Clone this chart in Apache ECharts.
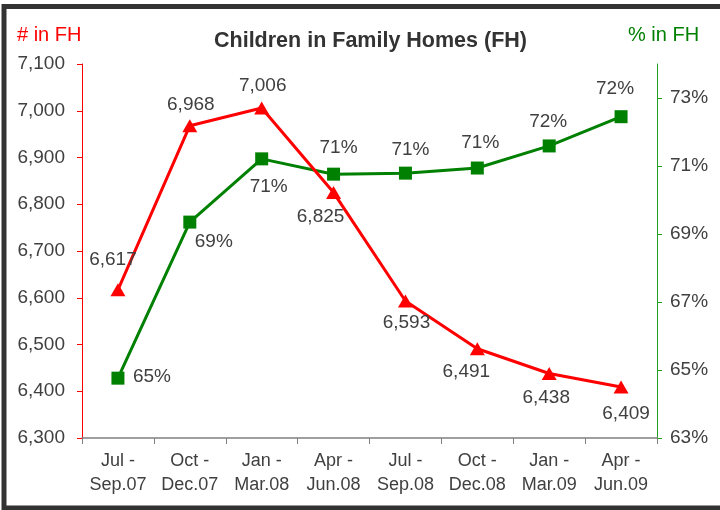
<!DOCTYPE html>
<html>
<head>
<meta charset="utf-8">
<script src="https://cdn.jsdelivr.net/npm/echarts@6/dist/echarts.min.js"></script>
<style>
html,body{margin:0;padding:0;background:#fff;}
#chart{width:720px;height:510px;}
</style>
</head>
<body>
<div id="chart"></div>
<script>
var categories = ['Jul -\nSep.07','Oct -\nDec.07','Jan -\nMar.08','Apr -\nJun.08','Jul -\nSep.08','Oct -\nDec.08','Jan -\nMar.09','Apr -\nJun.09'];
var countFH = [6617, 6968, 7006, 6825, 6593, 6491, 6438, 6409];
var pctFH = [64.76, 69.35, 71.21, 70.76, 70.79, 70.94, 71.59, 72.45];
var leftTicks = [6300, 6400, 6500, 6600, 6700, 6800, 6900, 7000, 7100];
var rightTicks = [63, 65, 67, 69, 71, 73];

// label placement (offset of label centre from the marker)
var countLabelOffsets = [[-5,-30],[1,-21],[1,-22],[-13,24],[1,22],[-11,23],[-3,24],[5,27]];
var pctLabelOffsets = [[34,-1],[24,20],[7,28],[5,-26],[5,-23],[3,-25],[-1,-24],[-6,-28]];

var txt = '#404040';
var font = 'Liberation Sans, Arial, sans-serif';

function fmtThousands(v){ return String(v).replace(/\B(?=(\d{3})+(?!\d))/g, ','); }

var chart = echarts.init(document.getElementById('chart'), null, {renderer:'canvas'});
chart.setOption({
  animation:false,
  backgroundColor:'#fff',
  textStyle:{fontFamily:font},
  graphic:[
    {type:'rect', shape:{x:4, y:6.5, width:760, height:501.5}, style:{fill:'none', stroke:'#333', lineWidth:5}, silent:true},
    {type:'text', left:17, top:25, style:{text:'# in FH', fill:'#ff0000', font:'20px ' + font}},
    {type:'text', left:628, top:25, style:{text:'% in FH', fill:'#008000', font:'20px ' + font}}
  ],
  title:{
    text:'Children in Family Homes (FH)',
    left:209, top:25,
    textStyle:{fontSize:21.5, fontWeight:'bold', color:'#333', fontFamily:font}
  },
  grid:{left:82, right:63, top:64, bottom:72, containLabel:false},
  xAxis:{
    type:'category',
    data:categories,
    boundaryGap:true,
    axisLine:{lineStyle:{color:'#808080', width:1.5}},
    axisTick:{show:true, length:6, interval:0, lineStyle:{color:'#808080'}},
    axisLabel:{color:txt, fontSize:18, lineHeight:24, margin:11, interval:0, fontFamily:font}
  },
  yAxis:[
    {
      type:'value', min:6300, max:7100, interval:100, position:'left',
      splitLine:{show:false},
      axisLine:{show:true, lineStyle:{color:'#ff0000', width:1}},
      axisTick:{show:true, length:5, lineStyle:{color:'#ff0000'}},
      axisLabel:{color:txt, fontSize:19, margin:17, fontFamily:font,
        customValues:leftTicks,
        formatter:function(v){return fmtThousands(v);}}
    },
    {
      type:'value', min:63, max:74, interval:2, position:'right',
      splitLine:{show:false},
      axisLine:{show:true, lineStyle:{color:'#22a022', width:1}},
      axisTick:{show:true, length:5, lineStyle:{color:'#22a022'}, customValues:rightTicks},
      axisLabel:{color:txt, fontSize:19, margin:13, fontFamily:font,
        customValues:rightTicks,
        formatter:function(v){return v + '%';}}
    }
  ],
  series:[
    {
      name:'# in FH', type:'line', yAxisIndex:0,
      symbol:'triangle', symbolSize:[15,13],
      lineStyle:{color:'#ff0000', width:3},
      itemStyle:{color:'#ff0000'},
      data:countFH.map(function(v,i){
        return {value:v, label:{show:true, position:'inside', offset:countLabelOffsets[i],
          color:txt, fontSize:19, fontFamily:font, formatter:function(p){return fmtThousands(p.value);}}};
      }),
      z:3
    },
    {
      name:'% in FH', type:'line', yAxisIndex:1,
      symbol:'rect', symbolSize:13,
      lineStyle:{color:'#008000', width:3},
      itemStyle:{color:'#008000'},
      data:pctFH.map(function(v,i){
        return {value:v, label:{show:true, position:'inside', offset:pctLabelOffsets[i],
          color:txt, fontSize:19, fontFamily:font, formatter:function(p){return Math.round(p.value) + '%';}}};
      }),
      z:2
    }
  ]
});
</script>
</body>
</html>
